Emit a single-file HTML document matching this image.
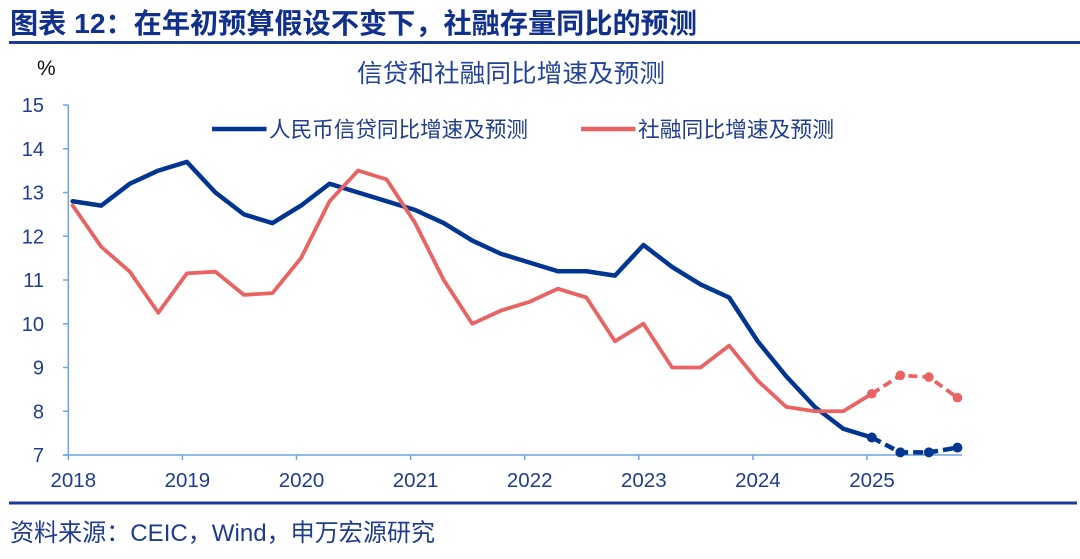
<!DOCTYPE html>
<html>
<head>
<meta charset="utf-8">
<style>
  html, body { margin: 0; padding: 0; background: #ffffff; }
  body { width: 1080px; height: 559px; overflow: hidden; }
  svg { display: block; }
  text { font-family: "Liberation Sans", "Noto Sans CJK SC", sans-serif; }
</style>
</head>
<body>
<svg width="1080" height="559" viewBox="0 0 1080 559" xmlns="http://www.w3.org/2000/svg">
  <rect x="0" y="0" width="1080" height="559" fill="#ffffff"/>

  <!-- Header -->
  <text x="10" y="33" font-size="28" font-weight="bold" fill="#10308C" textLength="687" lengthAdjust="spacingAndGlyphs">图表 12：在年初预算假设不变下，社融存量同比的预测</text>
  <rect x="9" y="41" width="1071" height="3" fill="#1A3C98"/>

  <!-- Unit and chart title -->
  <text x="37" y="75" font-size="21" fill="#111111">%</text>
  <text x="357" y="82" font-size="25" fill="#23439A" textLength="308" lengthAdjust="spacingAndGlyphs">信贷和社融同比增速及预测</text>

  <!-- Y axis -->
  <g stroke="#6CA6DC" stroke-width="1.5" fill="none">
    <line x1="68.3" y1="105" x2="68.3" y2="455"/>
    <line x1="63" y1="105" x2="68.3" y2="105"/>
    <line x1="63" y1="148.75" x2="68.3" y2="148.75"/>
    <line x1="63" y1="192.5" x2="68.3" y2="192.5"/>
    <line x1="63" y1="236.25" x2="68.3" y2="236.25"/>
    <line x1="63" y1="280" x2="68.3" y2="280"/>
    <line x1="63" y1="323.75" x2="68.3" y2="323.75"/>
    <line x1="63" y1="367.5" x2="68.3" y2="367.5"/>
    <line x1="63" y1="411.25" x2="68.3" y2="411.25"/>
    <line x1="63" y1="455" x2="68.3" y2="455"/>
    <!-- X axis -->
    <line x1="63" y1="455" x2="962" y2="455"/>
    <line x1="68.3" y1="455" x2="68.3" y2="460"/>
    <line x1="182.4" y1="455" x2="182.4" y2="460"/>
    <line x1="296.5" y1="455" x2="296.5" y2="460"/>
    <line x1="410.6" y1="455" x2="410.6" y2="460"/>
    <line x1="524.7" y1="455" x2="524.7" y2="460"/>
    <line x1="638.8" y1="455" x2="638.8" y2="460"/>
    <line x1="752.9" y1="455" x2="752.9" y2="460"/>
    <line x1="867" y1="455" x2="867" y2="460"/>
  </g>

  <!-- Y tick labels -->
  <g font-size="20" fill="#1F3C8F" text-anchor="end">
    <text x="44" y="112">15</text>
    <text x="44" y="155.75">14</text>
    <text x="44" y="199.5">13</text>
    <text x="44" y="243.25">12</text>
    <text x="44" y="287">11</text>
    <text x="44" y="330.75">10</text>
    <text x="44" y="374.5">9</text>
    <text x="44" y="418.25">8</text>
    <text x="44" y="462">7</text>
  </g>

  <!-- X tick labels -->
  <g font-size="20.5" fill="#1F3C8F" text-anchor="middle">
    <text x="73.3" y="487">2018</text>
    <text x="187.4" y="487">2019</text>
    <text x="301.5" y="487">2020</text>
    <text x="415.6" y="487">2021</text>
    <text x="529.7" y="487">2022</text>
    <text x="643.8" y="487">2023</text>
    <text x="757.9" y="487">2024</text>
    <text x="872" y="487">2025</text>
  </g>

  <!-- Legend -->
  <line x1="212" y1="129" x2="266.5" y2="129" stroke="#003591" stroke-width="4.5"/>
  <text x="269" y="137" font-size="21.7" fill="#1F3C8F" textLength="259" lengthAdjust="spacingAndGlyphs">人民币信贷同比增速及预测</text>
  <line x1="581" y1="129" x2="635.5" y2="129" stroke="#E86361" stroke-width="4.5"/>
  <text x="638" y="137" font-size="21.7" fill="#1F3C8F" textLength="196" lengthAdjust="spacingAndGlyphs">社融同比增速及预测</text>

  <!-- Blue series (solid) -->
  <polyline fill="none" stroke="#003591" stroke-width="4.5" stroke-linejoin="round" stroke-linecap="round"
    points="72.7,201.25 101.24,205.6 129.78,183.75 158.32,170.6 186.86,161.9 215.4,192.5 243.94,214.4 272.48,223.1 301.02,205.6 329.56,183.75 358.1,192.5 386.64,201.25 415.18,210 443.72,223.1 472.26,240.6 500.8,253.75 529.34,262.5 557.88,271.25 586.42,271.25 614.96,275.6 643.5,245 672.04,266.9 700.58,284.4 729.12,297.5 757.66,341.25 786.2,376.25 814.74,406.9 843.28,428.75 871.82,437.5"/>
  <!-- Blue forecast (dashed) -->
  <polyline fill="none" stroke="#003591" stroke-width="4.5" stroke-dasharray="10 5" stroke-linejoin="round"
    points="871.82,437.5 900.36,452.4 928.9,452.4 957.44,447.6"/>
  <g fill="#003591">
    <circle cx="871.82" cy="437.5" r="5"/>
    <circle cx="900.36" cy="452.4" r="5"/>
    <circle cx="928.9" cy="452.4" r="5"/>
    <circle cx="957.44" cy="447.6" r="5"/>
  </g>

  <!-- Red series (solid) -->
  <polyline fill="none" stroke="#E86361" stroke-width="3.8" stroke-linejoin="round" stroke-linecap="round"
    points="72.7,205.6 101.24,246.75 129.78,271.7 158.32,312.8 186.86,273.4 215.4,271.7 243.94,294.9 272.48,293.1 301.02,258.1 329.56,201.25 358.1,170.6 386.64,179.4 415.18,223.1 443.72,280 472.26,323.75 500.8,310.6 529.34,301.9 557.88,288.75 586.42,297.5 614.96,341.25 643.5,323.75 672.04,367.5 700.58,367.5 729.12,345.6 757.66,380.6 786.2,406.9 814.74,411.25 843.28,411.25 871.82,393.75"/>
  <!-- Red forecast (dashed) -->
  <polyline fill="none" stroke="#E86361" stroke-width="3.8" stroke-dasharray="9 5" stroke-linejoin="round"
    points="871.82,393.75 900.36,375.4 928.9,377.1 957.44,397.7"/>
  <g fill="#E86361">
    <circle cx="871.82" cy="393.75" r="4.8"/>
    <circle cx="900.36" cy="375.4" r="4.8"/>
    <circle cx="928.9" cy="377.1" r="4.8"/>
    <circle cx="957.44" cy="397.7" r="4.8"/>
  </g>

  <!-- Footer -->
  <rect x="9" y="501.5" width="1068" height="3" fill="#1A3C98"/>
  <text x="10" y="541" font-size="24.5" fill="#1F3C8F" textLength="425" lengthAdjust="spacingAndGlyphs">资料来源：CEIC，Wind，申万宏源研究</text>
</svg>
</body>
</html>
